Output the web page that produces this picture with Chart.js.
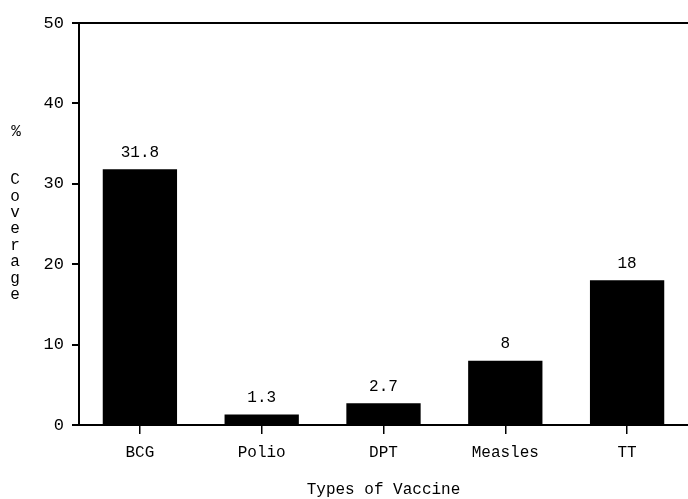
<!DOCTYPE html>
<html>
<head>
<meta charset="utf-8">
<script src="https://cdn.jsdelivr.net/npm/chart.js@4"></script>
<style>
  html, body { margin: 0; padding: 0; background: #fff; overflow: hidden; }
  #wrap { width: 688px; height: 499px; }
</style>
</head>
<body>
<div id="wrap"><canvas id="chart" width="688" height="499"></canvas></div>
<script>
const vaccines = ['BCG', 'Polio', 'DPT', 'Measles', 'TT'];
const coverage = [31.8, 1.3, 2.7, 8, 18];
const yTicks = [0, 10, 20, 30, 40, 50];
const yTitle = '%\n\nCoverage';
const xTitle = 'Types of Vaccine';

const FONT = '"Liberation Mono", "DejaVu Sans Mono", monospace';

// value labels above each bar
const valueLabels = {
  id: 'valueLabels',
  afterDatasetsDraw(chart) {
    const ctx = chart.ctx;
    const meta = chart.getDatasetMeta(0);
    ctx.save();
    ctx.fillStyle = '#000';
    ctx.font = '16px ' + FONT;
    ctx.textAlign = 'center';
    ctx.textBaseline = 'middle';
    meta.data.forEach((bar, i) => {
      ctx.fillText(String(coverage[i]), bar.x, bar.y - 17);
    });
    ctx.restore();
  }
};

// stacked vertical y title, one letter per line
const stackedTitle = {
  id: 'stackedTitle',
  afterDraw(chart) {
    const ctx = chart.ctx;
    ctx.save();
    ctx.fillStyle = '#000';
    ctx.font = '16px ' + FONT;
    ctx.textAlign = 'center';
    ctx.textBaseline = 'middle';
    ctx.fillText('%', 16, 132);
    const word = yTitle.split('\n').pop();
    for (let i = 0; i < word.length; i++) {
      ctx.fillText(word[i], 15, 180 + i * 16.4);
    }
    ctx.restore();
  }
};

new Chart(document.getElementById('chart'), {
  type: 'bar',
  data: {
    labels: vaccines,
    datasets: [{
      data: coverage,
      backgroundColor: '#000',
      borderWidth: 0,
      categoryPercentage: 1,
      barPercentage: 0.61
    }]
  },
  options: {
    responsive: false,
    animation: false,
    layout: { padding: { top: 23, right: 0, bottom: 0, left: 0 } },
    plugins: { legend: { display: false }, tooltip: { enabled: false } },
    scales: {
      x: {
        offset: true,
        grid: { display: true, offset: false, drawOnChartArea: false, color: '#000', tickLength: 9, lineWidth: 1.5 },
        border: { display: true, color: '#000', width: 2 },
        ticks: { color: '#000', font: { family: FONT, size: 16 }, padding: 9 },
        title: { display: true, text: xTitle, color: '#000', font: { family: FONT, size: 16 }, padding: { top: 6, bottom: 0 } },
        afterFit(scale) { scale.height = 74; }
      },
      y: {
        min: 0,
        max: 50,
        afterBuildTicks(scale) { scale.ticks = yTicks.map(v => ({ value: v })); },
        grid: {
          display: true,
          drawOnChartArea: true,
          color: c => (c.tick && c.tick.value === 50 ? '#000' : 'rgba(0,0,0,0)'),
          lineWidth: 2,
          tickColor: '#000',
          tickLength: 7
        },
        border: { display: true, color: '#000', width: 2 },
        ticks: { color: '#000', font: { family: FONT, size: 17 }, padding: 8 },
        afterFit(scale) { scale.width = 79; }
      }
    }
  },
  plugins: [valueLabels, stackedTitle]
});
</script>
</body>
</html>
